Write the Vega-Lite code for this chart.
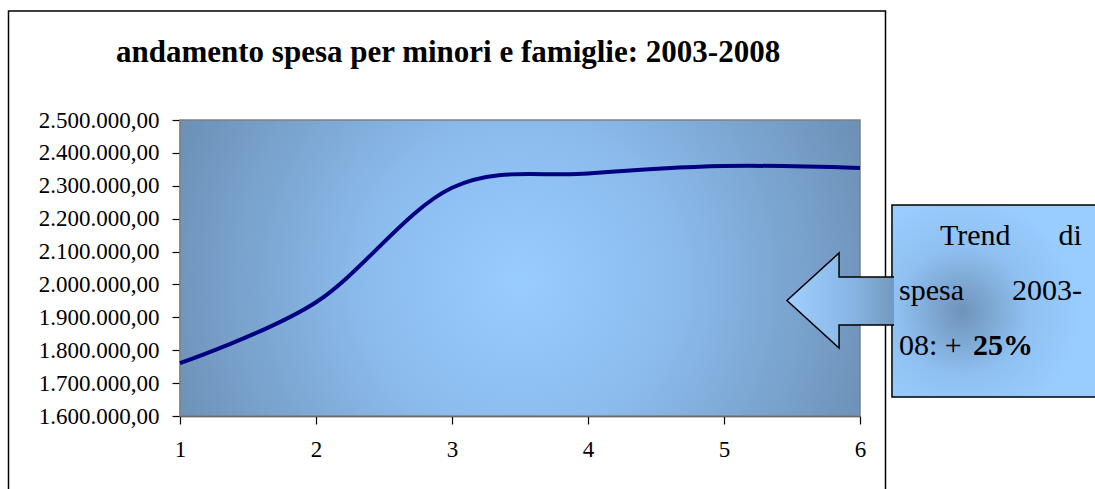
{
  "$schema": "https://vega.github.io/schema/vega-lite/v6.json",
  "width": 680,
  "height": 296,
  "autosize": {"type": "none"},
  "padding": {"left": 180, "top": 120, "right": 235, "bottom": 73},
  "background": "white",
  "resolve": {"axis": {"x": "independent", "y": "independent"}},
  "config": {
    "font": "Liberation Serif",
    "view": {"stroke": null},
    "locale": {"number": {"decimal": ",", "thousands": ".", "grouping": [3], "currency": ["", " €"]}},
    "axis": {
      "domainColor": "#222222",
      "domainWidth": 1.5,
      "tickColor": "#000000",
      "tickWidth": 1.2,
      "tickSize": 8,
      "labelFont": "Liberation Serif",
      "labelFontSize": 23,
      "labelColor": "#000000",
      "labelFlush": false,
      "grid": false,
      "zindex": 1
    }
  },
  "datasets": {
    "spesa": [
      {"anno": 1, "spesa": 1761000},
      {"anno": 2, "spesa": 1946000},
      {"anno": 3, "spesa": 2294000},
      {"anno": 4, "spesa": 2337000},
      {"anno": 5, "spesa": 2360000},
      {"anno": 6, "spesa": 2354000}
    ],
    "freccia": [
      {"x": 5.463, "y": 1951200, "y2": 1951200},
      {"x": 5.846, "y": 2095600, "y2": 1806800},
      {"x": 5.8465, "y": 2022600, "y2": 1876700},
      {"x": 6.25, "y": 2022600, "y2": 1876700}
    ],
    "contorno": [
      {"i": 1, "x": 6.25, "y": 2022600},
      {"i": 2, "x": 5.846, "y": 2022600},
      {"i": 3, "x": 5.846, "y": 2095600},
      {"i": 4, "x": 5.463, "y": 1951200},
      {"i": 5, "x": 5.846, "y": 1806800},
      {"i": 6, "x": 5.846, "y": 1876700},
      {"i": 7, "x": 6.25, "y": 1876700}
    ],
    "uno": [{}]
  },
  "layer": [
    {
      "data": {"name": "uno"},
      "mark": {
        "type": "rect",
        "stroke": "#808080",
        "strokeWidth": 1.5,
        "fill": {
          "gradient": "radial",
          "x1": 0.5, "y1": 0.52, "r1": 0,
          "x2": 0.5, "y2": 0.52, "r2": 0.55,
          "stops": [
            {"offset": 0, "color": "#99CCFF"},
            {"offset": 0.4, "color": "#8CBCEE"},
            {"offset": 1, "color": "#6C90B6"}
          ]
        }
      },
      "encoding": {
        "x": {"datum": 1, "type": "quantitative", "axis": null},
        "x2": {"datum": 6},
        "y": {"datum": 1600000, "type": "quantitative", "axis": null},
        "y2": {"datum": 2500000}
      }
    },
    {
      "data": {"name": "spesa"},
      "mark": {"type": "line", "interpolate": "cardinal", "tension": 0, "color": "#000080", "strokeWidth": 4},
      "encoding": {
        "x": {
          "field": "anno", "type": "quantitative",
          "scale": {"domain": [1, 6], "nice": false, "zero": false},
          "axis": {"values": [1, 2, 3, 4, 5, 6], "format": "d", "title": null, "labelPadding": 14}
        },
        "y": {
          "field": "spesa", "type": "quantitative",
          "scale": {"domain": [1600000, 2500000], "nice": false, "zero": false},
          "axis": {
            "values": [1600000, 1700000, 1800000, 1900000, 2000000, 2100000, 2200000, 2300000, 2400000, 2500000],
            "format": ",.2f", "title": null, "labelPadding": 13
          }
        }
      }
    },
    {
      "data": {"name": "uno"},
      "mark": {"type": "rect", "filled": false, "stroke": "#000000", "strokeWidth": 1.5},
      "encoding": {
        "x": {"datum": -0.261, "type": "quantitative", "axis": null},
        "x2": {"datum": 6.1875},
        "y": {"datum": 2831400, "type": "quantitative", "axis": null},
        "y2": {"datum": 1300000}
      }
    },
    {
      "data": {"name": "uno"},
      "mark": {
        "type": "rect",
        "stroke": "#000000",
        "strokeWidth": 1.5,
        "fill": {
          "gradient": "radial",
          "x1": 0.33, "y1": 0.55, "r1": 0,
          "x2": 0.33, "y2": 0.55, "r2": 0.55,
          "stops": [
            {"offset": 0, "color": "#6F93B9"},
            {"offset": 0.55, "color": "#8FC0F1"},
            {"offset": 1, "color": "#99CCFF"}
          ]
        }
      },
      "encoding": {
        "x": {"datum": 6.235, "type": "quantitative", "axis": null},
        "x2": {"datum": 7.8},
        "y": {"datum": 2241600, "type": "quantitative", "axis": null},
        "y2": {"datum": 1657800}
      }
    },
    {
      "data": {"name": "freccia"},
      "mark": {
        "type": "area",
        "interpolate": "linear",
        "fill": {
          "gradient": "linear",
          "x1": 0, "y1": 0, "x2": 1, "y2": 0,
          "stops": [
            {"offset": 0, "color": "#A0D0FF"},
            {"offset": 0.6, "color": "#88B6E4"},
            {"offset": 1, "color": "#7499C0"}
          ]
        }
      },
      "encoding": {
        "x": {"field": "x", "type": "quantitative", "axis": null},
        "y": {"field": "y", "type": "quantitative", "axis": null},
        "y2": {"field": "y2"}
      }
    },
    {
      "data": {"name": "contorno"},
      "mark": {"type": "line", "color": "#000000", "strokeWidth": 1.5, "interpolate": "linear"},
      "encoding": {
        "x": {"field": "x", "type": "quantitative", "axis": null},
        "y": {"field": "y", "type": "quantitative", "axis": null},
        "order": {"field": "i", "type": "quantitative"}
      }
    },
    {
      "data": {"name": "uno"},
      "mark": {"type": "text", "font": "Liberation Serif", "fontSize": 31, "fontWeight": "bold", "align": "center", "baseline": "alphabetic", "color": "#000000"},
      "encoding": {
        "x": {"datum": 2.971, "type": "quantitative", "axis": null},
        "y": {"datum": 2676400, "type": "quantitative", "axis": null},
        "text": {"value": "andamento spesa per minori e famiglie: 2003-2008"}
      }
    },
    {
      "data": {"name": "uno"},
      "mark": {"type": "text", "font": "Liberation Serif", "fontSize": 30, "align": "left", "baseline": "alphabetic", "color": "#000000"},
      "encoding": {
        "x": {"datum": 6.588, "type": "quantitative", "axis": null},
        "y": {"datum": 2119900, "type": "quantitative", "axis": null},
        "text": {"value": "Trend"}
      }
    },
    {
      "data": {"name": "uno"},
      "mark": {"type": "text", "font": "Liberation Serif", "fontSize": 30, "align": "right", "baseline": "alphabetic", "color": "#000000"},
      "encoding": {
        "x": {"datum": 7.632, "type": "quantitative", "axis": null},
        "y": {"datum": 2119900, "type": "quantitative", "axis": null},
        "text": {"value": "di"}
      }
    },
    {
      "data": {"name": "uno"},
      "mark": {"type": "text", "font": "Liberation Serif", "fontSize": 30, "align": "left", "baseline": "alphabetic", "color": "#000000"},
      "encoding": {
        "x": {"datum": 6.287, "type": "quantitative", "axis": null},
        "y": {"datum": 1952700, "type": "quantitative", "axis": null},
        "text": {"value": "spesa"}
      }
    },
    {
      "data": {"name": "uno"},
      "mark": {"type": "text", "font": "Liberation Serif", "fontSize": 30, "align": "right", "baseline": "alphabetic", "color": "#000000"},
      "encoding": {
        "x": {"datum": 7.632, "type": "quantitative", "axis": null},
        "y": {"datum": 1952700, "type": "quantitative", "axis": null},
        "text": {"value": "2003-"}
      }
    },
    {
      "data": {"name": "uno"},
      "mark": {"type": "text", "font": "Liberation Serif", "fontSize": 30, "align": "left", "baseline": "alphabetic", "color": "#000000"},
      "encoding": {
        "x": {"datum": 6.287, "type": "quantitative", "axis": null},
        "y": {"datum": 1785500, "type": "quantitative", "axis": null},
        "text": {"value": "08: +"}
      }
    },
    {
      "data": {"name": "uno"},
      "mark": {"type": "text", "font": "Liberation Serif", "fontSize": 30, "fontWeight": "bold", "align": "left", "baseline": "alphabetic", "color": "#000000"},
      "encoding": {
        "x": {"datum": 6.83, "type": "quantitative", "axis": null},
        "y": {"datum": 1785500, "type": "quantitative", "axis": null},
        "text": {"value": "25%"}
      }
    }
  ]
}
